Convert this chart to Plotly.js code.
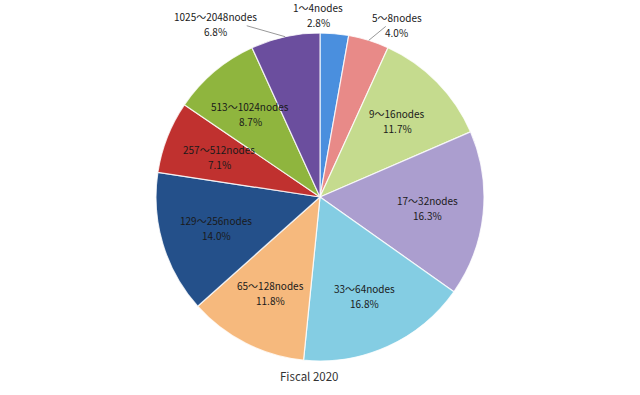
<!DOCTYPE html>
<html>
<head>
<meta charset="utf-8">
<script src="https://cdn.plot.ly/plotly-3.0.1.min.js"></script>
<style>html,body{margin:0;padding:0;background:#fff;}#chart{width:640px;height:395px;}</style>
</head>
<body>
<div id="chart"></div>
<script>
var categories = ["1～4nodes","5～8nodes","9～16nodes","17～32nodes","33～64nodes","65～128nodes","129～256nodes","257～512nodes","513～1024nodes","1025～2048nodes"];
var shares = [2.8, 4.0, 11.7, 16.3, 16.8, 11.8, 14.0, 7.1, 8.7, 6.8];
var sliceColors = ["#4a8fde","#e88a88","#c5db8e","#ab9ecf","#84cde3","#f6b97d","#24508a","#c0312f","#8fb53e","#6b4e9e"];
var chartTitle = "Fiscal 2020";

var W = 640, H = 395;
var cx = 320, cy = 197, R = 164;
var LINE = 15;
var domY = [(H - cy - R) / H, (H - cy + R) / H];

// label placement style: outside labels for small slices (offset of the name line from slice edge)
var outside = {0: {dx: -16, dy: -26, arrow: false}, 1: {dx: 28, dy: -23, arrow: true}, 9: {dx: -70, dy: -20, arrow: true}};
var insideFrac = 0.66;

var total = shares.reduce(function(a, b){return a + b;}, 0);
var annotations = [];
var cum = 0;
var font = {family: "Noto Sans CJK JP, Noto Sans, sans-serif", size: 10, color: "#1a1a1a"};
function txtAnn(px, py, text) {
  return {xref: "paper", yref: "paper", x: px / W, y: (H - py) / H,
    xanchor: "center", yanchor: "middle", showarrow: false, text: text, font: font};
}
for (var i = 0; i < shares.length; i++) {
  var mid = (cum + shares[i] / 2) / total * 2 * Math.PI;
  cum += shares[i];
  var pct = shares[i].toFixed(1) + "%";
  if (outside[i]) {
    var ex = cx + R * Math.sin(mid), ey = cy - R * Math.cos(mid);
    var o = outside[i];
    if (o.arrow) {
      annotations.push({xref: "paper", yref: "paper", x: ex / W, y: (H - ey) / H,
        ax: o.dx, ay: o.dy, showarrow: true, arrowhead: 0, arrowwidth: 1, arrowcolor: "#999999",
        xanchor: "center", yanchor: "middle",
        text: categories[i], font: font, standoff: 0});
    } else {
      annotations.push(txtAnn(ex + o.dx, ey + o.dy, categories[i]));
    }
    annotations.push(txtAnn(ex + o.dx, ey + o.dy + LINE, pct));
  } else {
    var px = cx + insideFrac * R * Math.sin(mid), py = cy - insideFrac * R * Math.cos(mid);
    annotations.push(txtAnn(px, py - LINE / 2, categories[i]));
    annotations.push(txtAnn(px, py + LINE / 2, pct));
  }
}
annotations.push({xref: "paper", yref: "paper", x: 309 / W, y: (H - 376) / H, showarrow: false,
  xanchor: "center", yanchor: "middle",
  text: chartTitle, font: {family: "Noto Sans CJK JP, Noto Sans, sans-serif", size: 11.5, color: "#333333"}});

var trace = {
  type: "pie",
  labels: categories,
  values: shares,
  sort: false,
  direction: "clockwise",
  rotation: 0,
  textinfo: "none",
  hoverinfo: "label+percent",
  marker: {colors: sliceColors, line: {color: "rgba(255,255,255,0.8)", width: 1.2}},
  domain: {x: [0, 1], y: domY}
};

var layout = {
  width: W, height: H,
  margin: {l: 0, r: 0, t: 0, b: 0},
  paper_bgcolor: "#ffffff",
  showlegend: false,
  annotations: annotations
};

Plotly.newPlot("chart", [trace], layout, {displayModeBar: false, staticPlot: true});
</script>
</body>
</html>
